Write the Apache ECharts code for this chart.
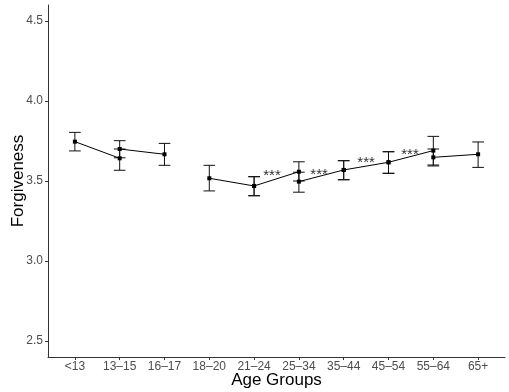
<!DOCTYPE html>
<html>
<head>
<meta charset="utf-8">
<script src="https://cdn.jsdelivr.net/npm/echarts@6/dist/echarts.min.js"></script>
<style>
  html, body { margin: 0; padding: 0; background: #fff; }
  #chart { width: 509px; height: 392px; }
</style>
</head>
<body>
<div id="chart"></div>
<script>
const categories = ['<13', '13–15', '16–17', '18–20', '21–24', '25–34', '35–44', '45–54', '55–64', '65+']
const yTicks = [2.5, 3.0, 3.5, 4.0, 4.5]

// each comparison joins two neighbouring age groups
const pairStart = [0, 1, 3, 4, 5, 6, 7, 8]
const pairMeans = [[3.746, 3.642], [3.700, 3.667], [3.517, 3.469], [3.469, 3.558], [3.496, 3.569], [3.569, 3.617], [3.617, 3.690], [3.648, 3.667]]
const pairLower = [[3.688, 3.567], [3.645, 3.598], [3.438, 3.408], [3.408, 3.500], [3.430, 3.508], [3.508, 3.548], [3.548, 3.600], [3.594, 3.585]]
const pairUpper = [[3.804, 3.700], [3.752, 3.735], [3.598, 3.527], [3.527, 3.620], [3.555, 3.627], [3.627, 3.683], [3.683, 3.779], [3.700, 3.744]]

// significance marks
const starX = [4.4, 5.45, 6.5, 7.48]
const starY = [3.530, 3.540, 3.612, 3.665]

const font = 'Liberation Sans, Arial, sans-serif'
const chart = echarts.init(document.getElementById('chart'))

const series = []
pairStart.forEach((s, i) => {
  series.push({
    type: 'line',
    data: [[s, pairMeans[i][0]], [s + 1, pairMeans[i][1]]],
    symbol: 'rect',
    symbolSize: 4,
    itemStyle: { color: '#000' },
    lineStyle: { color: '#000', width: 1 },
    silent: true,
    z: 3,
  })
  series.push({
    type: 'custom',
    data: [0, 1].map(k => [s + k, pairLower[i][k], pairUpper[i][k]]),
    renderItem: (params, api) => {
      const x = api.value(0)
      const lo = api.coord([x, api.value(1)])
      const hi = api.coord([x, api.value(2)])
      const hw = api.size([0.13, 0])[0]
      const st = { stroke: '#111', lineWidth: 1 }
      return {
        type: 'group',
        children: [
          { type: 'line', shape: { x1: lo[0], y1: lo[1], x2: hi[0], y2: hi[1] }, style: st },
          { type: 'line', shape: { x1: lo[0] - hw, y1: lo[1], x2: lo[0] + hw, y2: lo[1] }, style: st },
          { type: 'line', shape: { x1: hi[0] - hw, y1: hi[1], x2: hi[0] + hw, y2: hi[1] }, style: st },
        ],
      }
    },
    silent: true,
    z: 2,
  })
})

series.push({
  type: 'custom',
  data: starX.map((x, i) => [x, starY[i]]),
  renderItem: (params, api) => {
    const p = api.coord([api.value(0), api.value(1)])
    return {
      type: 'text',
      x: p[0],
      y: p[1],
      style: { text: '***', fill: '#333', font: '15px ' + font, align: 'center', verticalAlign: 'middle' },
    }
  },
  silent: true,
  z: 4,
})

chart.setOption({
  animation: false,
  grid: { left: 48, top: 5, width: 457, height: 352, outerBoundsMode: 'none' },
  xAxis: {
    type: 'value',
    min: -0.6,
    max: 9.6,
    name: 'Age Groups',
    nameLocation: 'middle',
    nameGap: 15,
    nameMoveOverlap: false,
    nameTextStyle: { fontFamily: font, fontSize: 17, color: '#000' },
    axisLine: { onZero: false, lineStyle: { color: '#333', width: 1 } },
    axisTick: { length: 3, lineStyle: { color: '#333' }, customValues: categories.map((c, i) => i) },
    axisLabel: {
      customValues: categories.map((c, i) => i),
      formatter: v => categories[Math.round(v)],
      fontFamily: font, fontSize: 12, color: '#4d4d4d', margin: 4,
    },
    splitLine: { show: false },
  },
  yAxis: {
    type: 'value',
    min: 2.4,
    max: 4.6,
    name: 'Forgiveness',
    nameLocation: 'middle',
    nameGap: 21,
    nameMoveOverlap: false,
    nameTextStyle: { fontFamily: font, fontSize: 17, color: '#000' },
    axisLine: { show: true, onZero: false, lineStyle: { color: '#333', width: 1 } },
    axisTick: { show: true, length: 3, lineStyle: { color: '#333' }, customValues: yTicks },
    axisLabel: {
      customValues: yTicks,
      formatter: v => v.toFixed(1),
      fontFamily: font, fontSize: 12, color: '#4d4d4d', margin: 5,
    },
    splitLine: { show: false },
  },
  series,
})
</script>
</body>
</html>
